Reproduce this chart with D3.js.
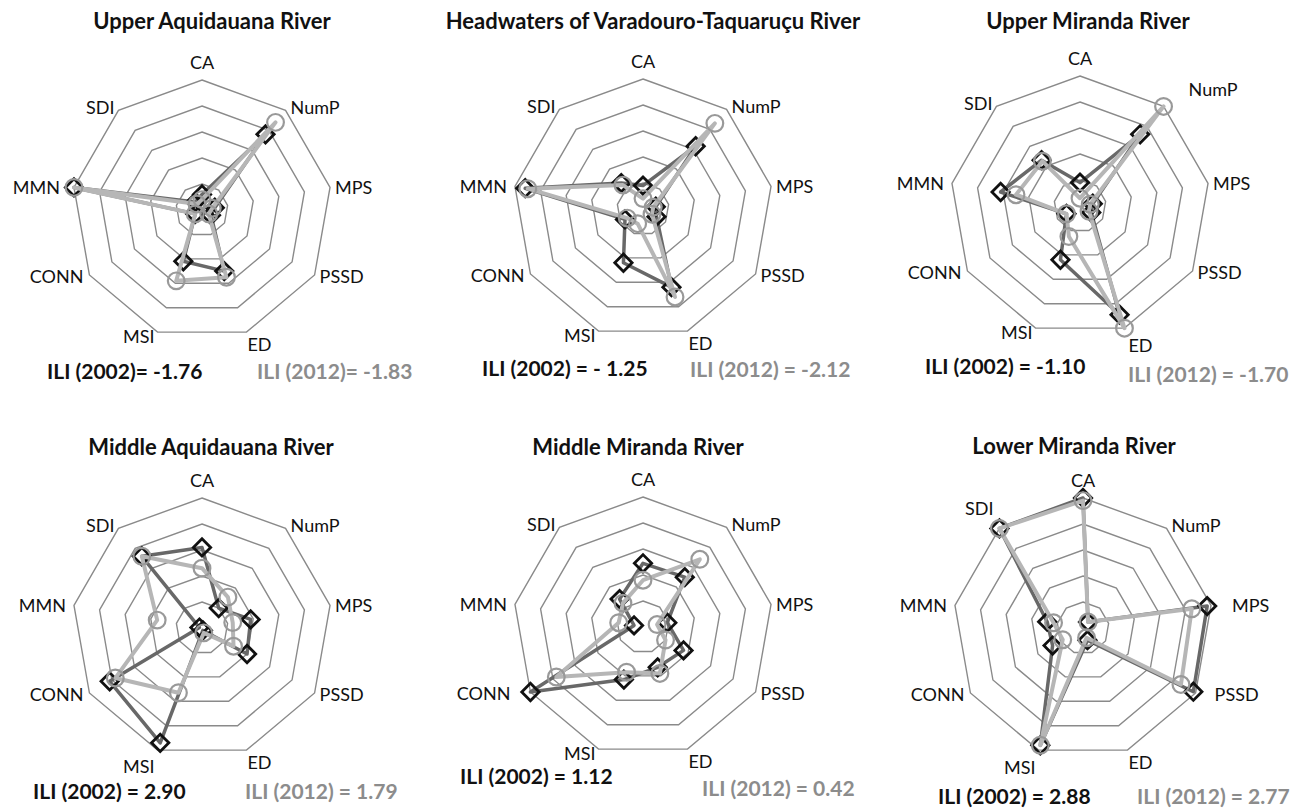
<html>
  <head>
    <script src="https://d3js.org/d3.v7.min.js"></script>
    <style>
      body { margin: 0; background: #fff; }
      svg text { font-family: Lato, "Open Sans", sans-serif; }
    </style>
  </head>
  <body>
    <div id="chart"></div>
    <script>
      // indicators, clockwise from the top
      const axes = ['CA', 'NumP', 'MPS', 'PSSD', 'ED', 'MSI', 'CONN', 'MMN', 'SDI'];

      const regions = [
        'Upper Aquidauana River',
        'Headwaters of Varadouro-Taquaruçu River',
        'Upper Miranda River',
        'Middle Aquidauana River',
        'Middle Miranda River',
        'Lower Miranda River'
      ];

      // values (0 = centre, 5 = outer ring)
      const values2002 = [
        [0.6, 3.8, 0.5, 0.4, 2.5, 2.1, 0.3, 5.0, 0.4],
        [0.9, 3.15, 0.5, 0.6, 3.2, 2.2, 0.8, 4.6, 1.3],
        [0.9, 3.6, 0.5, 0.5, 4.45, 2.2, 0.6, 3.1, 2.3],
        [3.1, 1.0, 1.9, 2.0, 0.1, 4.7, 4.1, 0.1, 3.6],
        [2.45, 2.5, 0.95, 1.8, 1.65, 2.15, 5.0, 0.35, 1.4],
        [5.0, 0.3, 4.85, 4.9, 0.5, 4.8, 1.35, 1.4, 5.0]
      ];

      const values2012 = [
        [0.4, 4.4, 0.4, 0.3, 2.75, 2.9, 0.3, 5.0, 0.3],
        [0.4, 4.3, 0.4, 0.4, 3.6, 0.6, 0.7, 4.5, 1.2],
        [0.3, 5.0, 0.4, 0.4, 5.0, 1.25, 0.6, 2.5, 2.25],
        [2.3, 1.55, 1.2, 1.4, 0.2, 2.65, 3.85, 1.75, 3.6],
        [1.8, 3.4, 0.55, 1.0, 1.9, 1.85, 3.85, 0.95, 1.2],
        [4.9, 0.3, 4.25, 4.35, 0.4, 4.8, 0.9, 1.15, 5.0]
      ];

      const ili2002 = ['ILI (2002)= -1.76', 'ILI (2002) = - 1.25', 'ILI (2002) = -1.10',
                       'ILI (2002) = 2.90', 'ILI (2002) = 1.12', 'ILI (2002) = 2.88'];
      const ili2012 = ['ILI (2012)= -1.83', 'ILI (2012) = -2.12', 'ILI (2012) = -1.70',
                       'ILI (2012) = 1.79', 'ILI (2012) = 0.42', 'ILI (2012) = 2.77'];

      const ringTicks = [1, 2, 3, 4, 5];

      // layout
      const width = 1300, height = 808;
      const R = 130;
      const centers = [[202, 210], [643, 209], [1080, 206], [202, 628], [643, 627], [1083, 628]];
      const titlePos = [[212, 29], [653, 29], [1088, 29], [211, 455], [638, 455], [1074, 454]];
      const iliPos = [
        [[47, 370], [257, 370]], [[482, 367], [690, 368]], [[925, 365], [1128, 373]],
        [[33, 790], [245, 790]], [[460, 775], [702, 787]], [[938, 795], [1137, 795]]
      ];

      const svg = d3.create('svg')
        .attr('width', width)
        .attr('height', height);

      const r = d3.scaleLinear().domain([0, 5]).range([0, R]);
      const angle = d3.scalePoint().domain(axes).range([0, 2 * Math.PI * 8 / 9]);

      const pt = (a, v) => [Math.sin(angle(a)) * r(v), -Math.cos(angle(a)) * r(v)];

      const line = d3.lineRadial()
        .angle((d, i) => angle(axes[i]))
        .radius(d => r(d))
        .curve(d3.curveLinearClosed);

      const diamond = d3.symbol().type(d3.symbolSquare).size(150);
      const circle = d3.symbol().type(d3.symbolCircle).size(220);

      // label placement relative to outer vertex: [dx, dy, anchor]
      const labelOff = {
        CA: [0, -18, 'middle'], NumP: [5, -3, 'start'], MPS: [5, 0, 'start'],
        PSSD: [5, 1, 'start'], ED: [1, 12, 'start'], MSI: [-3, 4, 'end'],
        CONN: [-6, 1, 'end'], MMN: [-8, 0, 'end'], SDI: [-4, -3, 'end']
      };
      // labels pushed away from markers, per panel
      const nudge = [
        { MMN: [-6, 0] },
        {},
        { NumP: [20, -14], ED: [3, 5] },
        { MSI: [0, 12] },
        { CONN: [-14, 0] },
        { MPS: [16, 0], PSSD: [14, 0], SDI: [-2, -17], MSI: [0, 13] }
      ];

      regions.forEach((name, k) => {
        const g = svg.append('g')
          .attr('transform', `translate(${centers[k][0]}, ${centers[k][1]})`);

        // grid rings
        g.append('g')
          .selectAll('path')
          .data(ringTicks)
          .join('path')
            .attr('d', t => line(axes.map(() => t)))
            .attr('fill', 'none')
            .attr('stroke', '#8a8a8a')
            .attr('stroke-width', 1.4);

        // axis labels
        const nx = a => (nudge[k][a] || [0, 0])[0];
        const ny = a => (nudge[k][a] || [0, 0])[1];
        g.append('g')
          .selectAll('text')
          .data(axes)
          .join('text')
            .attr('x', a => pt(a, 5)[0] + labelOff[a][0] + nx(a))
            .attr('y', a => pt(a, 5)[1] + labelOff[a][1] + ny(a))
            .attr('text-anchor', a => labelOff[a][2])
            .attr('dominant-baseline', 'central')
            .attr('font-size', '18px')
            .attr('fill', '#111')
            .text(a => a);

        // 2002 series
        g.append('path')
          .attr('d', line(values2002[k]))
          .attr('fill', 'none')
          .attr('stroke', '#686868')
          .attr('stroke-width', 3.5)
          .attr('stroke-linejoin', 'round');
        g.append('g')
          .selectAll('path')
          .data(values2002[k])
          .join('path')
            .attr('transform', (v, i) => `translate(${pt(axes[i], v)}) rotate(45)`)
            .attr('d', diamond())
            .attr('fill', 'none')
            .attr('stroke', '#111')
            .attr('stroke-width', 2.8);

        // 2012 series
        g.append('path')
          .attr('d', line(values2012[k]))
          .attr('fill', 'none')
          .attr('stroke', '#b6b6b6')
          .attr('stroke-width', 4)
          .attr('stroke-linejoin', 'round');
        g.append('g')
          .selectAll('path')
          .data(values2012[k])
          .join('path')
            .attr('transform', (v, i) => `translate(${pt(axes[i], v)})`)
            .attr('d', circle())
            .attr('fill', 'none')
            .attr('stroke', '#999')
            .attr('stroke-width', 2.2);

        // title
        svg.append('text')
          .attr('x', titlePos[k][0])
          .attr('y', titlePos[k][1])
          .attr('text-anchor', 'middle')
          .attr('font-size', '22px')
          .attr('font-weight', 'bold')
          .attr('fill', '#111')
          .text(name);

        // ILI values
        svg.append('text')
          .attr('x', iliPos[k][0][0])
          .attr('y', iliPos[k][0][1])
          .attr('dominant-baseline', 'central')
          .attr('font-size', '21px')
          .attr('font-weight', 'bold')
          .attr('fill', '#111')
          .text(ili2002[k]);
        svg.append('text')
          .attr('x', iliPos[k][1][0])
          .attr('y', iliPos[k][1][1])
          .attr('dominant-baseline', 'central')
          .attr('font-size', '21px')
          .attr('font-weight', 'bold')
          .attr('fill', '#8c8c8c')
          .text(ili2012[k]);
      });

      document.getElementById('chart').appendChild(svg.node());
    </script>
  </body>
</html>
